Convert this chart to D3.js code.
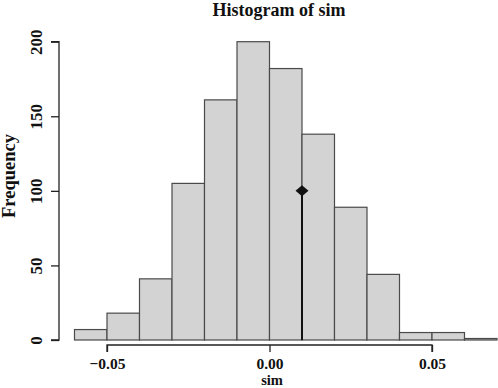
<!DOCTYPE html>
<html><head><meta charset="utf-8">
<script src="https://cdn.jsdelivr.net/npm/d3@7"></script>
<style>body{margin:0;background:#fff}svg{display:block}text{font-family:"Liberation Serif","Times New Roman",serif;font-weight:bold;fill:#111}</style>
</head><body><svg id="c" width="498" height="388"></svg>
<script>
const binStarts = [-0.06,-0.05,-0.04,-0.03,-0.02,-0.01,0.00,0.01,0.02,0.03,0.04,0.05,0.06];
const counts = [7,18,41,105,161,200,182,138,89,44,5,5,1];
const binWidth = 0.01;
const xTicks = [-0.05,0.00,0.05];
const yTicks = [0,50,100,150,200];
const markerX = 0.01;
const markerY = 100;

const svg = d3.select("#c");
const x = d3.scaleLinear().domain([-0.05,0.05]).range([107,432]);
const y = d3.scaleLinear().domain([0,200]).range([340,41.7]);

// bars
svg.selectAll("rect.bar").data(binStarts).enter().append("rect")
  .attr("x", (d)=>x(d)).attr("width", (d)=>x(d+binWidth)-x(d))
  .attr("y", (d,i)=>y(counts[i])).attr("height", (d,i)=>y(0)-y(counts[i]))
  .attr("fill","#d3d3d3").attr("stroke","#4a4a4a").attr("stroke-width",1.2);

// y axis
const ya = svg.append("g").attr("transform","translate(59,0)")
  .call(d3.axisLeft(y).tickValues(yTicks).tickSize(8).tickFormat(d3.format("d")));
ya.select(".domain").attr("stroke","#222").attr("stroke-width",1.3).attr("d",`M-8,${y(0)}H0V${y(200)}H-8`);
ya.selectAll(".tick line").attr("stroke","#222").attr("stroke-width",1.3);
ya.selectAll(".tick text").attr("transform","rotate(-90)").attr("x",0).attr("y",-17)
  .attr("dy","0").attr("text-anchor","middle").style("font-size","17px");

// x axis
const xa = svg.append("g").attr("transform","translate(0,345)")
  .call(d3.axisBottom(x).tickValues(xTicks).tickSize(7).tickFormat(d3.format(".2f")));
xa.select(".domain").attr("stroke","#222").attr("stroke-width",1.3).attr("d",`M${x(-0.05)},7V0H${x(0.05)}V7`);
xa.selectAll(".tick line").attr("stroke","#222").attr("stroke-width",1.3);
xa.selectAll(".tick text").attr("y",23.5).attr("dy","0").style("font-size","15.5px");

// marker line and diamond
svg.append("line").attr("x1",x(markerX)).attr("x2",x(markerX)).attr("y1",y(0)).attr("y2",y(markerY))
  .attr("stroke","#111").attr("stroke-width",2);
const cx = x(markerX), cy = y(markerY);
svg.append("path").attr("d",`M${cx-6.5},${cy}L${cx},${cy-5.5}L${cx+6.5},${cy}L${cx},${cy+5.5}Z`).attr("fill","#111");

// titles
svg.append("text").attr("x",279).attr("y",16).attr("text-anchor","middle").style("font-size","18px").text("Histogram of sim");
svg.append("text").attr("x",272).attr("y",384.6).attr("text-anchor","middle").style("font-size","14.5px").text("sim");
svg.append("text").attr("transform","translate(15,176) rotate(-90)").attr("text-anchor","middle").style("font-size","18.5px").text("Frequency");
</script></body></html>
